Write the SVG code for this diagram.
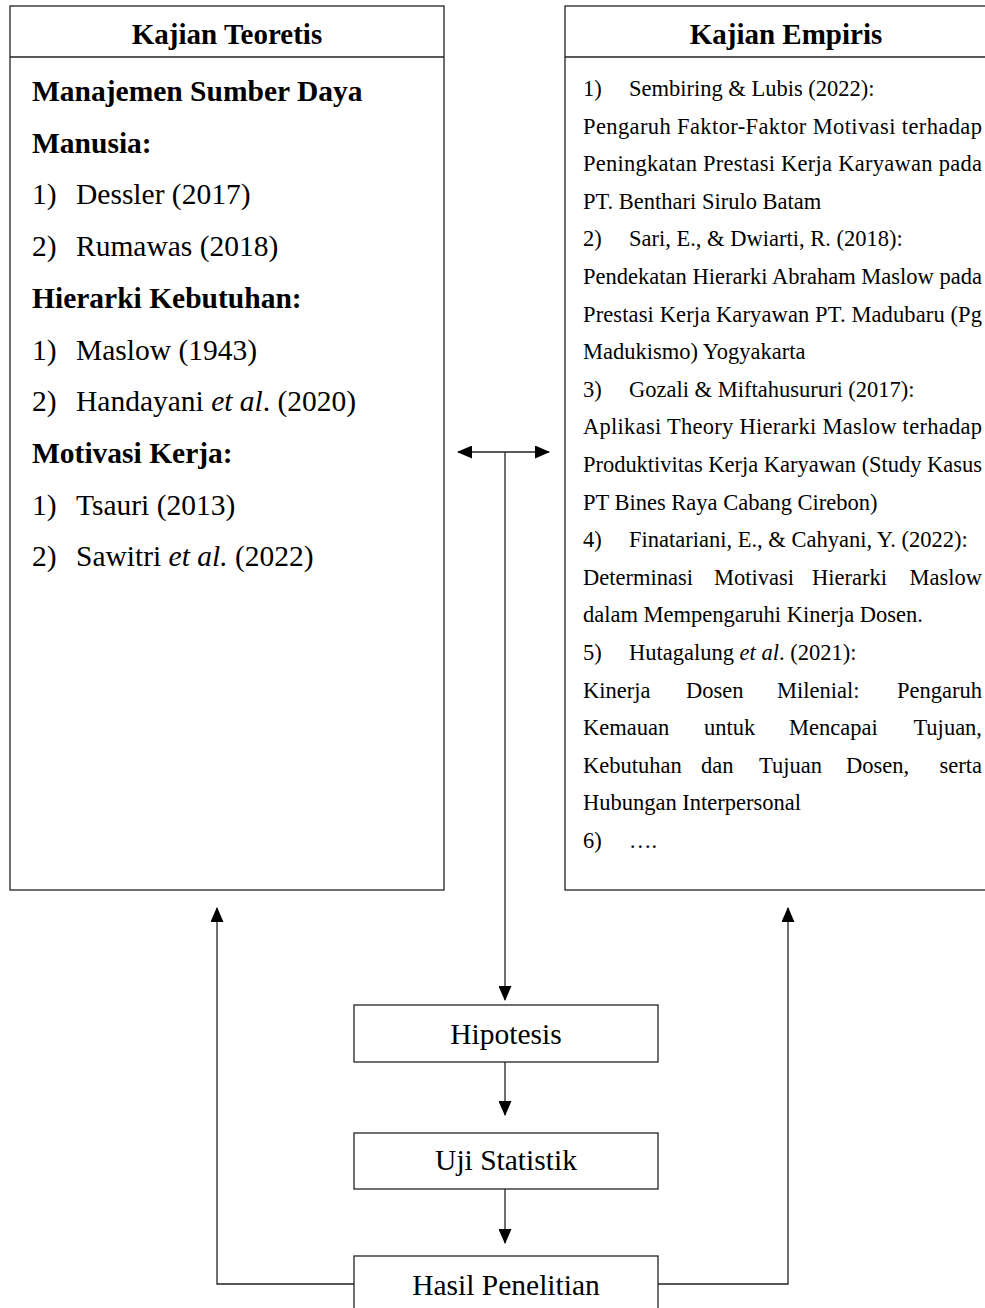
<svg xmlns="http://www.w3.org/2000/svg" width="985" height="1308" viewBox="0 0 985 1308">
<style>
.box{fill:#fff;stroke:#222;stroke-width:1.3}
.ln{fill:none;stroke:#222;stroke-width:1.3}
.t{font-family:"Liberation Serif","Times New Roman",serif;fill:#000}
.ttl{font-size:29px;font-weight:bold}
.lb{font-size:29.5px;font-weight:bold}
.lr{font-size:29.5px}
.r{font-size:22.5px}
.c{font-size:29.5px;text-anchor:middle}
</style>
<defs>
<marker id="ah" viewBox="0 0 15 13" refX="14" refY="6.5" markerWidth="15" markerHeight="13" orient="auto-start-reverse" markerUnits="userSpaceOnUse">
<path d="M0,0 L15,6.5 L0,13 z" fill="#000"/>
</marker>
</defs>
<rect width="985" height="1308" fill="#fff"/>

<g id="kajian-teoretis">
<rect class="box" x="10" y="6" width="434" height="884"/>
<line class="ln" x1="10" y1="57" x2="444" y2="57"/>
<text class="t ttl" x="227" y="44" text-anchor="middle">Kajian Teoretis</text>
<text class="t lb" x="32" y="101">Manajemen Sumber Daya</text>
<text class="t lb" x="32" y="152.7">Manusia:</text>
<text class="t lr" x="32" y="204.4">1)</text><text class="t lr" x="76" y="204.4">Dessler (2017)</text>
<text class="t lr" x="32" y="256.1">2)</text><text class="t lr" x="76" y="256.1">Rumawas (2018)</text>
<text class="t lb" x="32" y="307.8">Hierarki Kebutuhan:</text>
<text class="t lr" x="32" y="359.5">1)</text><text class="t lr" x="76" y="359.5">Maslow (1943)</text>
<text class="t lr" x="32" y="411.2">2)</text><text class="t lr" x="76" y="411.2">Handayani <tspan font-style="italic">et al</tspan>. (2020)</text>
<text class="t lb" x="32" y="462.9">Motivasi Kerja:</text>
<text class="t lr" x="32" y="514.6">1)</text><text class="t lr" x="76" y="514.6">Tsauri (2013)</text>
<text class="t lr" x="32" y="566.3">2)</text><text class="t lr" x="76" y="566.3">Sawitri <tspan font-style="italic">et al.</tspan> (2022)</text>
</g>

<g id="kajian-empiris">
<rect class="box" x="565" y="6" width="442" height="884"/>
<line class="ln" x1="565" y1="57" x2="985" y2="57"/>
<text class="t ttl" x="786" y="44" text-anchor="middle">Kajian Empiris</text>
<text class="t r" x="583" y="96">1)</text><text class="t r" x="629" y="96">Sembiring &amp; Lubis (2022):</text>
<text class="t r" x="583" y="133.6" textLength="399" lengthAdjust="spacing">Pengaruh Faktor-Faktor Motivasi terhadap</text>
<text class="t r" x="583" y="171.2" textLength="399" lengthAdjust="spacing">Peningkatan Prestasi Kerja Karyawan pada</text>
<text class="t r" x="583" y="208.8">PT. Benthari Sirulo Batam</text>
<text class="t r" x="583" y="246.4">2)</text><text class="t r" x="629" y="246.4">Sari, E., &amp; Dwiarti, R. (2018):</text>
<text class="t r" x="583" y="284" textLength="399" lengthAdjust="spacing">Pendekatan Hierarki Abraham Maslow pada</text>
<text class="t r" x="583" y="321.6" textLength="399" lengthAdjust="spacing">Prestasi Kerja Karyawan PT. Madubaru (Pg</text>
<text class="t r" x="583" y="359.2">Madukismo) Yogyakarta</text>
<text class="t r" x="583" y="396.8">3)</text><text class="t r" x="629" y="396.8">Gozali &amp; Miftahusururi (2017):</text>
<text class="t r" x="583" y="434.4" textLength="399" lengthAdjust="spacing">Aplikasi Theory Hierarki Maslow terhadap</text>
<text class="t r" x="583" y="472" textLength="399" lengthAdjust="spacing">Produktivitas Kerja Karyawan (Study Kasus</text>
<text class="t r" x="583" y="509.6">PT Bines Raya Cabang Cirebon)</text>
<text class="t r" x="583" y="547.2">4)</text><text class="t r" x="629" y="547.2">Finatariani, E., &amp; Cahyani, Y. (2022):</text>
<text class="t r" y="584.8"><tspan x="583">Determinasi</tspan><tspan x="714">Motivasi</tspan><tspan x="812">Hierarki</tspan><tspan x="982" text-anchor="end">Maslow</tspan></text>
<text class="t r" x="583" y="622.4">dalam Mempengaruhi Kinerja Dosen.</text>
<text class="t r" x="583" y="660">5)</text><text class="t r" x="629" y="660">Hutagalung <tspan font-style="italic">et al</tspan>. (2021):</text>
<text class="t r" y="697.6"><tspan x="583">Kinerja</tspan><tspan x="686">Dosen</tspan><tspan x="777">Milenial:</tspan><tspan x="982" text-anchor="end">Pengaruh</tspan></text>
<text class="t r" y="735.2"><tspan x="583">Kemauan</tspan><tspan x="704">untuk</tspan><tspan x="789">Mencapai</tspan><tspan x="982" text-anchor="end">Tujuan,</tspan></text>
<text class="t r" y="772.8"><tspan x="583">Kebutuhan</tspan><tspan x="701">dan</tspan><tspan x="759">Tujuan</tspan><tspan x="846">Dosen,</tspan><tspan x="982" text-anchor="end">serta</tspan></text>
<text class="t r" x="583" y="810.4">Hubungan Interpersonal</text>
<text class="t r" x="583" y="848">6)</text><text class="t r" x="629" y="848">….</text>
</g>

<g id="hipotesis">
<rect class="box" x="354" y="1005" width="304" height="57"/>
<text class="t c" x="506" y="1044">Hipotesis</text>
</g>
<g id="uji-statistik">
<rect class="box" x="354" y="1133" width="304" height="56"/>
<text class="t c" x="506" y="1170">Uji Statistik</text>
</g>
<g id="hasil-penelitian">
<rect class="box" x="354" y="1256" width="304" height="70"/>
<text class="t c" x="506" y="1295">Hasil Penelitian</text>
</g>

<g id="connectors">
<line class="ln" x1="458" y1="452" x2="549" y2="452" marker-start="url(#ah)" marker-end="url(#ah)"/>
<line class="ln" x1="505" y1="452" x2="505" y2="1000" marker-end="url(#ah)"/>
<line class="ln" x1="505" y1="1062" x2="505" y2="1115" marker-end="url(#ah)"/>
<line class="ln" x1="505" y1="1189" x2="505" y2="1243" marker-end="url(#ah)"/>
<polyline class="ln" points="354,1284 217,1284 217,908" marker-end="url(#ah)"/>
<polyline class="ln" points="658,1284 788,1284 788,908" marker-end="url(#ah)"/>
</g>
</svg>
